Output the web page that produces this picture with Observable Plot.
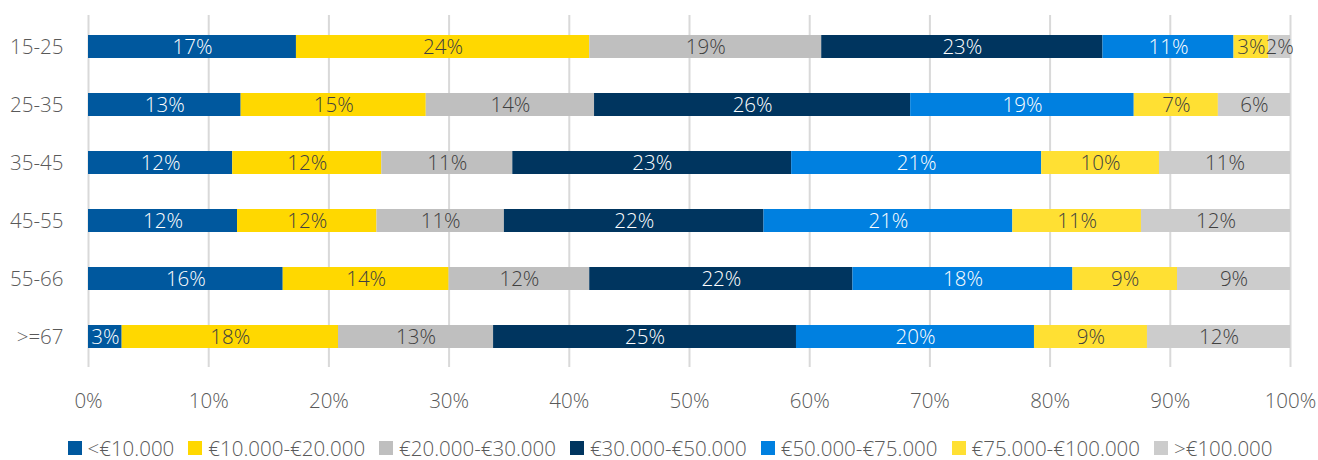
<!DOCTYPE html>
<html>
<head>
<meta charset="utf-8">
<script src="https://cdn.jsdelivr.net/npm/d3@7"></script>
<script src="https://cdn.jsdelivr.net/npm/@observablehq/plot@0.6"></script>
<style>
  html, body { margin: 0; padding: 0; background: #fff; }
  body { width: 1318px; height: 460px; font-family: "Open Sans", sans-serif; }
  #chart svg { display: block; }
  #legend { display: flex; justify-content: center; align-items: center; gap: 0 14px; font-size: 20.5px; color: #595959; font-weight: 300; margin-top: 20px; line-height: 20px; height: 20px; padding-left: 22px;}
  #legend .item { display: flex; align-items: center; gap: 6px; }
  #legend .sw { width: 14px; height: 14px; display: inline-block; }
</style>
</head>
<body>
<div id="chart"></div>
<div id="legend"></div>
<script>
const ages = ["15-25", "25-35", "35-45", "45-55", "55-66", ">=67"];
const seriesNames = ["<€10.000", "€10.000-€20.000", "€20.000-€30.000", "€30.000-€50.000", "€50.000-€75.000", "€75.000-€100.000", ">€100.000"];
const seriesColors = ["#00589E", "#FFD800", "#BFBFBF", "#00355F", "#0080E0", "#FFE033", "#CCCCCC"];
const darkSeries = ["<€10.000", "€30.000-€50.000", "€50.000-€75.000"];
// values in percent, per age group, in series order
const v15_25 = [17.3, 24.4, 19.3, 23.4, 10.9, 2.9, 1.8];
const v25_35 = [12.7, 15.4, 14.0, 26.3, 18.6, 7.0, 6.0];
const v35_45 = [12.0, 12.4, 10.9, 23.2, 20.8, 9.8, 10.9];
const v45_55 = [12.4, 11.6, 10.6, 21.6, 20.7, 10.7, 12.4];
const v55_66 = [16.2, 13.8, 11.7, 21.9, 18.3, 8.7, 9.4];
const v67 = [2.8, 18.0, 12.9, 25.2, 19.8, 9.4, 11.9];
const xTicks = [0, 10, 20, 30, 40, 50, 60, 70, 80, 90, 100];

const rows = [v15_25, v25_35, v35_45, v45_55, v55_66, v67];
const data = [];
ages.forEach((a, i) => rows[i].forEach((v, j) => data.push({age: a, series: seriesNames[j], value: v})));

const font = "Open Sans, sans-serif";
const fs = 20.5;
const stackOpts = {x: "value", y: "age", z: "series", order: seriesNames};
const label = d => Math.round(d.value) + "%";

const chart = Plot.plot({
  width: 1318,
  height: 418,
  marginLeft: 88,
  marginRight: 28,
  marginTop: 15,
  marginBottom: 51,
  style: {fontFamily: font, fontSize: fs + "px", color: "#595959", background: "#fff"},
  x: {domain: [0, 100], label: null},
  y: {domain: ages, paddingInner: 0.61, paddingOuter: 0.305, label: null},
  color: {domain: seriesNames, range: seriesColors},
  marks: [
    Plot.ruleX(xTicks, {stroke: "#D9D9D9", strokeWidth: 2}),
    Plot.barX(data, Plot.stackX({...stackOpts, fill: "series"})),
    Plot.text(data, Plot.filter(d => darkSeries.includes(d.series), Plot.stackX({...stackOpts, text: label, fill: "white", fontSize: fs, fontWeight: 300}))),
    Plot.text(data, Plot.filter(d => !darkSeries.includes(d.series), Plot.stackX({...stackOpts, text: label, fill: "#404040", fontSize: fs, fontWeight: 300}))),
    Plot.axisX({ticks: xTicks, tickFormat: d => d + "%", tickSize: 0, tickPadding: 26, fill: "#595959", fontSize: fs, fontWeight: 300}),
    Plot.axisY({tickSize: 0, tickPadding: 25, fill: "#595959", fontSize: fs, fontWeight: 300})
  ]
});
document.getElementById("chart").appendChild(chart);

const legend = document.getElementById("legend");
seriesNames.forEach((s, i) => {
  const item = document.createElement("span");
  item.className = "item";
  const sw = document.createElement("span");
  sw.className = "sw";
  sw.style.background = seriesColors[i];
  const t = document.createElement("span");
  t.textContent = s;
  item.appendChild(sw);
  item.appendChild(t);
  legend.appendChild(item);
});
</script>
</body>
</html>
